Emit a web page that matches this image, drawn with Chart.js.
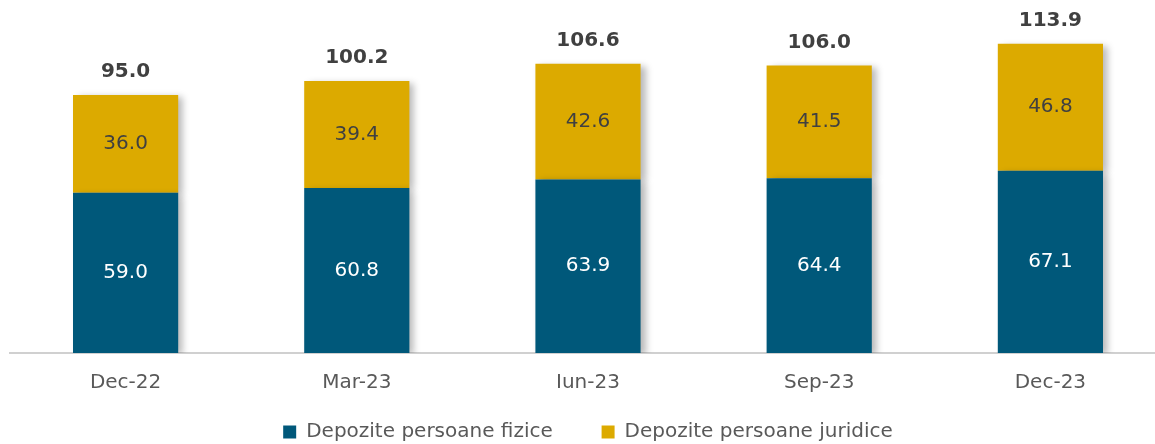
<!DOCTYPE html>
<html>
<head>
<meta charset="utf-8">
<script src="https://cdn.jsdelivr.net/npm/chart.js@4.4.1/dist/chart.umd.min.js"></script>
<style>
  html, body { margin: 0; padding: 0; background: #ffffff; overflow: hidden; }
  #wrap { width: 1166px; height: 453px; position: relative; }
</style>
</head>
<body>
<div id="wrap"><canvas id="bar-chart-stacked"></canvas></div>
<script>
var categories = ["Dec-22", "Mar-23", "Iun-23", "Sep-23", "Dec-23"];
var fizice = [59.0, 60.8, 63.9, 64.4, 67.1];
var juridice = [36.0, 39.4, 42.6, 41.5, 46.8];
var totals = [95.0, 100.2, 106.6, 106.0, 113.9];

var FONT = "'DejaVu Sans', sans-serif";

// soft shadow on the right side of the bars
var barShadow = {
    id: 'barShadow',
    beforeDatasetsDraw: function (chart) {
        var ctx = chart.ctx;
        ctx.save();
        ctx.shadowColor = 'rgba(0,0,0,0.28)';
        ctx.shadowBlur = 7;
        ctx.shadowOffsetX = 5;
        ctx.shadowOffsetY = 2;
    },
    afterDatasetsDraw: function (chart) {
        chart.ctx.restore();
    }
};

// values inside the segments and totals above
var barLabels = {
    id: 'barLabels',
    afterDraw: function (chart) {
        var ctx = chart.ctx;
        ctx.save();
        ctx.textAlign = 'center';
        ctx.textBaseline = 'middle';
        chart.data.datasets.forEach(function (ds, i) {
            var meta = chart.getDatasetMeta(i);
            meta.data.forEach(function (bar, j) {
                var mid = (bar.y + bar.base) / 2;
                ctx.font = '20px ' + FONT;
                ctx.fillStyle = i === 0 ? '#ffffff' : '#404040';
                ctx.fillText(ds.data[j].toFixed(1), bar.x, mid);
            });
        });
        var top = chart.getDatasetMeta(1);
        top.data.forEach(function (bar, j) {
            ctx.font = 'bold 20px ' + FONT;
            ctx.fillStyle = '#404040';
            ctx.fillText(totals[j].toFixed(1), bar.x, bar.y - 23);
        });
        ctx.restore();
    }
};

new Chart(document.getElementById('bar-chart-stacked'), {
    type: 'bar',
    data: {
        labels: categories,
        datasets: [
            {
                label: 'Depozite persoane fizice',
                backgroundColor: '#00587a',
                data: fizice
            }, {
                label: 'Depozite persoane juridice',
                backgroundColor: '#dcaa00',
                data: juridice
            }
        ]
    },
    options: {
        responsive: true,
        maintainAspectRatio: false,
        animation: false,
        layout: {
            padding: { left: 10, right: 0, top: 0, bottom: 1 }
        },
        datasets: {
            bar: {
                categoryPercentage: 1,
                barPercentage: 0.455
            }
        },
        scales: {
            x: {
                stacked: true,
                grid: { display: false },
                border: { display: true, color: '#d0d0d0', width: 2 },
                ticks: {
                    color: '#595959',
                    font: { family: FONT, size: 20 },
                    padding: 10
                }
            },
            y: {
                stacked: true,
                display: false,
                min: 0,
                max: 130
            }
        },
        plugins: {
            legend: {
                display: true,
                position: 'bottom',
                labels: {
                    color: '#595959',
                    font: { family: FONT, size: 20 },
                    boxWidth: 13,
                    boxHeight: 13,
                    padding: 17,
                    generateLabels: function (chart) {
                        var items = Chart.defaults.plugins.legend.labels.generateLabels(chart);
                        items[0].text = items[0].text + '     ';
                        return items;
                    }
                }
            },
            tooltip: { enabled: false }
        }
    },
    plugins: [barShadow, barLabels]
});
</script>
</body>
</html>
